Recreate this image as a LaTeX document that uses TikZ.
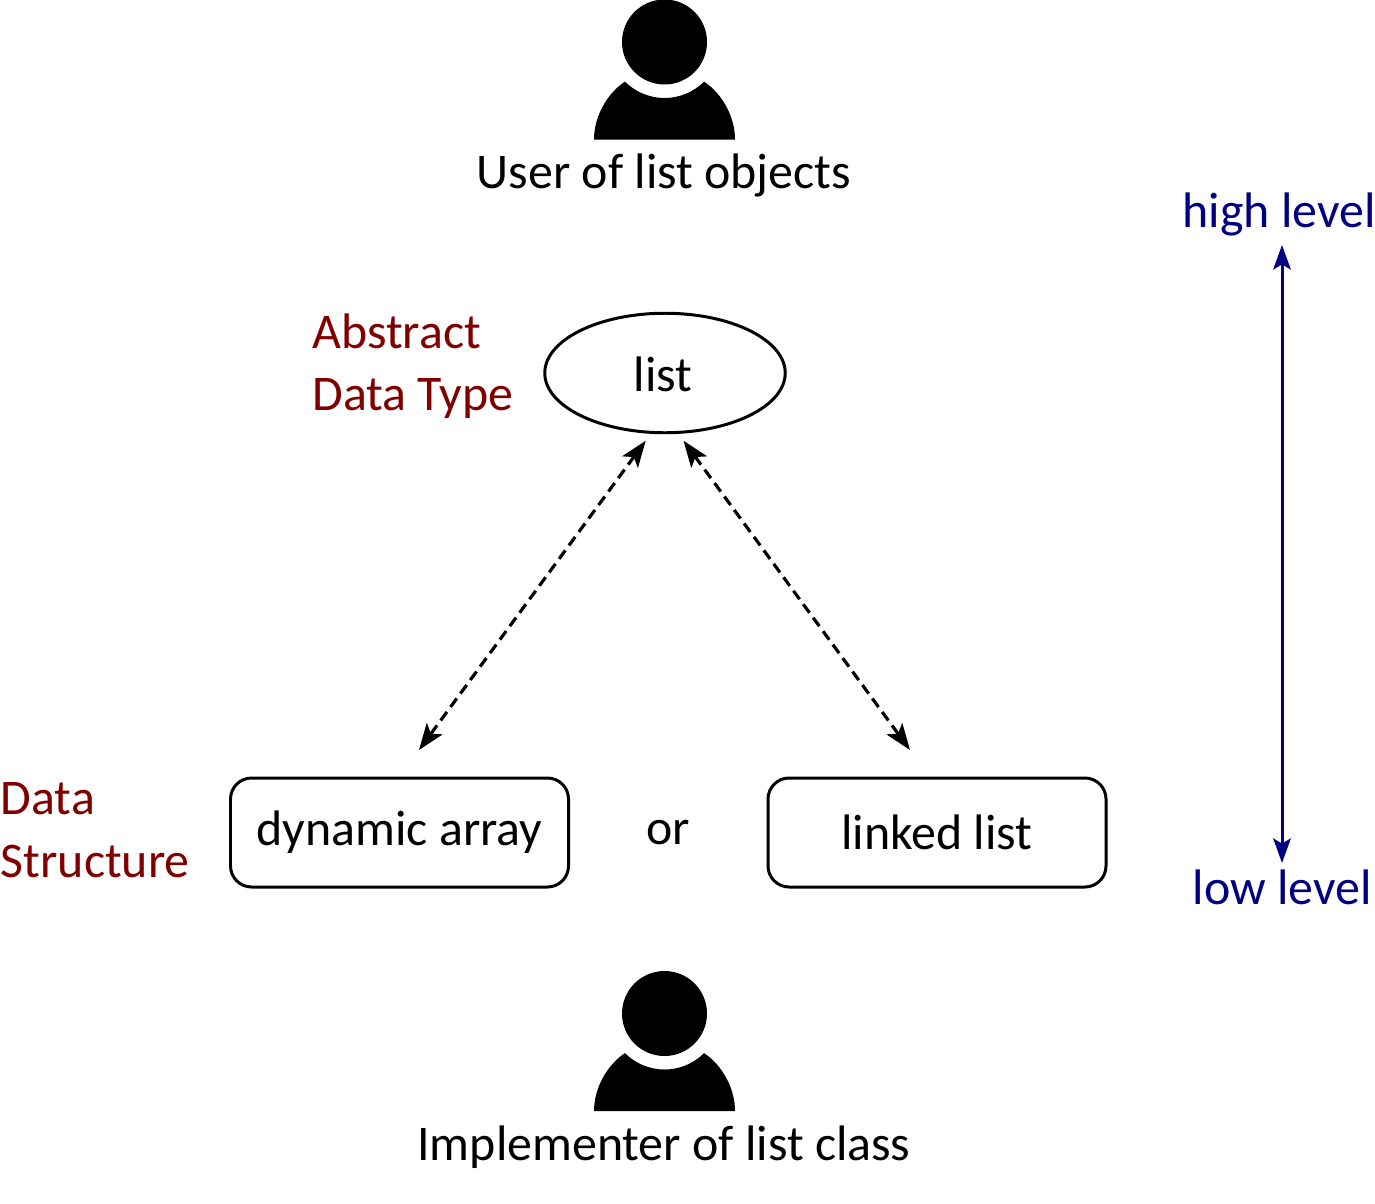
\documentclass[tikz,border=0pt]{standalone}
\usepackage{fontspec}
\setmainfont{Carlito}
\usetikzlibrary{arrows.meta, shapes.geometric}
\definecolor{adtred}{RGB}{128,0,0}
\definecolor{levelblue}{RGB}{0,0,128}
\tikzset{
  x=0.02cm, y=-0.02cm,
  txt/.style = {inner sep = 0pt, font = \fontsize{28.4}{34}\selectfont},
  redtxt/.style = {txt, anchor = west, text = adtred},
  bluetxt/.style = {txt, text = levelblue},
  rbox/.style = {draw, line width = 1.7pt, rounded corners = 12pt, minimum width = 338*0.02cm, minimum height = 109*0.02cm, txt},
  dblarrow/.style = {line width = 1.8pt, dash pattern = on 6pt off 3.5pt, {Stealth[length=15pt,width=11pt,inset=3.5pt]}-{Stealth[length=15pt,width=11pt,inset=3.5pt]}},
  person/.pic = {
    \fill (0,0) circle (42.5);
    \fill (-70.5,97.5) .. controls (-70.5,75) and (-58,52) .. (-39.6,39.6) .. controls (-29.1,50.1) and (-14.85,56) .. (0,56) .. controls (14.85,56) and (29.1,50.1) .. (39.6,39.6) .. controls (58,52) and (70.5,75) .. (70.5,97.5) -- cycle;
  }
}
\begin{document}
\begin{tikzpicture}
\useasboundingbox (0,0) rectangle (1375,1203);
% users
\pic at (664.5,42) {person};
\node[txt] (user) at (664,175.5) {User of list objects};
\pic at (664.5,1013.5) {person};
\node[txt] (impl) at (664,1147) {Implementer of list class};
% abstract data type
\node[draw, ellipse, line width = 1.7pt, minimum width = 240.5*0.02cm, minimum height = 119.5*0.02cm, txt] (list) at (665,373) {};
\node[txt] (listtxt) at (663,374) {list};
\node[redtxt] (adt1) at (312,331) {Abstract};
\node[redtxt] (adt2) at (312,399) {Data Type};
% data structures
\node[rbox] (array) at (399.5,832.5) {dynamic array};
\node[rbox] (linked) at (937,832.5) {\raisebox{-0.5pt}{linked list}};
\node[txt] (or) at (668,833) {or};
\node[redtxt] (ds1) at (0.5,799) {Data};
\node[redtxt] (ds2) at (0.5,861) {Structure};
% arrows
\coordinate (arrayend) at (419,750);
\coordinate (linkedend) at (910,750);
\coordinate (listl) at (645.7,440.7);
\coordinate (listr) at (683.5,440.7);
\draw[dblarrow] (listl) -- (arrayend);
\draw[dblarrow] (listr) -- (linkedend);
% levels
\node[bluetxt] (high) at (1279,214.5) {high level};
\node[bluetxt] (low) at (1282,887.5) {low level};
\coordinate (hightip) at (1282,245);
\coordinate (lowtip) at (1282,863);
\draw[levelblue, line width = 1.7pt, {Stealth[length=14pt,width=10pt,inset=3pt]}-{Stealth[length=14pt,width=10pt,inset=3pt]}] (hightip) -- (lowtip);
\end{tikzpicture}
\end{document}
